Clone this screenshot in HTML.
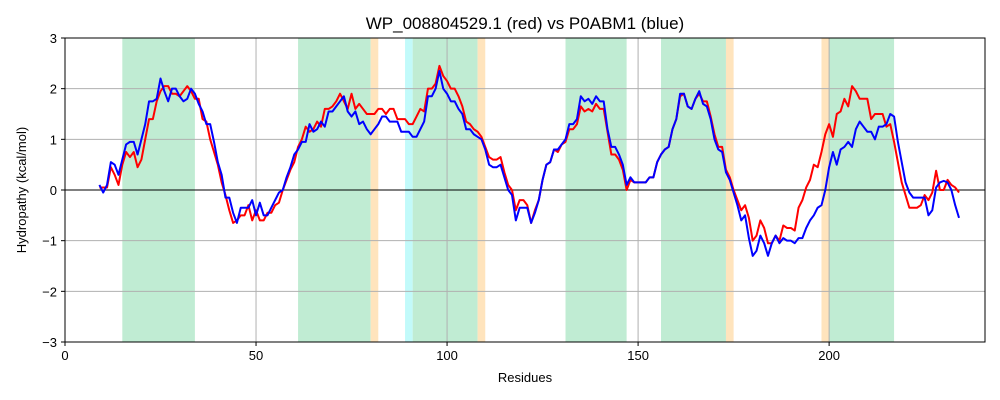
<!DOCTYPE html>
<html><head><meta charset="utf-8"><style>
html,body{margin:0;padding:0;background:#fff;}
svg{display:block;font-family:"Liberation Sans","DejaVu Sans",sans-serif;}
</style></head><body>
<svg id="chart" width="1000" height="400" viewBox="0 0 1000 400"></svg>
<script>
const startResidue = 9;
const redValues = [0.05,0.05,0.05,0.45,0.3,0.1,0.5,0.75,0.65,0.75,0.45,0.6,1.0,1.4,1.4,1.75,1.95,2.05,2.05,1.9,1.9,1.85,1.95,2.05,1.95,1.8,1.8,1.4,1.35,1.0,0.75,0.5,0.15,-0.1,-0.4,-0.65,-0.6,-0.5,-0.5,-0.3,-0.6,-0.4,-0.6,-0.6,-0.45,-0.45,-0.3,-0.25,0.0,0.2,0.4,0.55,0.85,1.0,1.25,1.15,1.2,1.35,1.25,1.6,1.6,1.65,1.75,1.9,1.75,1.6,1.9,1.6,1.7,1.6,1.5,1.5,1.5,1.6,1.6,1.5,1.6,1.6,1.4,1.4,1.4,1.3,1.3,1.45,1.6,1.55,2.0,2.0,2.1,2.45,2.25,2.15,2.0,2.0,1.85,1.65,1.35,1.3,1.2,1.15,1.05,0.85,0.65,0.6,0.6,0.65,0.35,0.1,0.0,-0.4,-0.2,-0.2,-0.3,-0.65,-0.4,-0.2,0.2,0.5,0.55,0.8,0.75,0.9,0.95,1.2,1.2,1.3,1.65,1.55,1.6,1.55,1.7,1.6,1.6,1.15,0.7,0.7,0.6,0.4,0.0,0.2,0.15,0.15,0.15,0.15,0.25,0.25,0.55,0.7,0.8,0.85,1.2,1.4,1.85,1.9,1.65,1.6,1.8,1.9,1.75,1.75,1.45,1.1,0.85,0.85,0.4,0.25,0.0,-0.2,-0.4,-0.3,-0.55,-1.0,-0.9,-0.6,-0.75,-1.05,-1.05,-0.9,-1.0,-0.7,-0.75,-0.75,-0.8,-0.35,-0.2,0.05,0.2,0.5,0.45,0.75,1.1,1.3,1.05,1.5,1.55,1.8,1.65,2.05,1.95,1.8,1.8,1.8,1.4,1.5,1.5,1.5,1.25,1.3,0.95,0.55,0.15,-0.1,-0.35,-0.35,-0.35,-0.3,-0.1,-0.2,-0.05,0.38,0.0,0.0,0.2,0.1,0.05,-0.05];
const blueValues = [0.1,-0.05,0.1,0.55,0.5,0.3,0.6,0.9,0.95,0.95,0.7,1.0,1.3,1.75,1.75,1.8,2.2,1.95,1.75,2.0,2.0,1.85,1.75,1.8,2.0,1.9,1.7,1.55,1.3,1.3,0.95,0.55,0.3,-0.15,-0.15,-0.45,-0.65,-0.35,-0.35,-0.35,-0.2,-0.5,-0.25,-0.5,-0.5,-0.35,-0.2,-0.05,0.0,0.25,0.45,0.7,0.8,0.95,0.95,1.3,1.15,1.2,1.35,1.25,1.55,1.55,1.65,1.75,1.85,1.55,1.45,1.55,1.3,1.35,1.2,1.1,1.2,1.3,1.45,1.45,1.35,1.35,1.35,1.15,1.15,1.15,1.05,1.05,1.2,1.35,1.85,1.85,2.0,2.35,2.0,1.9,1.75,1.75,1.6,1.5,1.2,1.2,1.1,1.05,1.0,0.8,0.5,0.45,0.45,0.5,0.25,0.0,-0.1,-0.6,-0.35,-0.35,-0.35,-0.65,-0.45,-0.2,0.2,0.5,0.55,0.8,0.8,0.9,1.0,1.3,1.3,1.4,1.85,1.75,1.8,1.7,1.85,1.75,1.75,1.2,0.85,0.85,0.7,0.5,0.1,0.25,0.15,0.15,0.15,0.15,0.25,0.25,0.55,0.7,0.8,0.85,1.2,1.4,1.9,1.9,1.65,1.6,1.8,1.95,1.7,1.65,1.4,1.0,0.8,0.75,0.35,0.2,-0.05,-0.3,-0.6,-0.5,-0.95,-1.3,-1.2,-0.9,-1.05,-1.3,-1.05,-0.9,-1.05,-0.95,-1.0,-1.0,-1.05,-0.95,-0.95,-0.75,-0.6,-0.5,-0.35,-0.3,0.0,0.45,0.75,0.5,0.8,0.85,0.95,0.85,1.2,1.35,1.25,1.15,1.15,1.0,1.25,1.25,1.3,1.5,1.45,0.95,0.55,0.15,-0.05,-0.15,-0.15,-0.15,-0.15,-0.5,-0.4,0.05,0.15,0.18,0.15,0.0,-0.3,-0.55];
const bandStarts = [15,61,80,89,91,108,131,156,173,198,200];
const bandEnds   = [34,80,82,91,108,110,147,173,175,200,217];
const bandKinds  = ['tm','tm','end','start','tm','end','tm','tm','end','end','tm'];
const xTicks = [0,50,100,150,200];
const yTicks = [-3,-2,-1,0,1,2,3];

const L=65,R=985,T=38,B=342, xMin=0,xMax=240.8,yMin=-3,yMax=3;
const xs=v=>L+(v-xMin)/(xMax-xMin)*(R-L);
const ys=v=>B-(v-yMin)/(yMax-yMin)*(B-T);
const NS='http://www.w3.org/2000/svg';
const svg=document.getElementById('chart');
function mk(tag,attrs,parent){const e=document.createElementNS(NS,tag);for(const k in attrs)e.setAttribute(k,attrs[k]);(parent||svg).appendChild(e);return e;}
const colors={tm:'#c0ecd3',end:'#ffe4bd',start:'#c2fafa'};
bandStarts.forEach((s,i)=>{
  const r=mk('rect',{x:xs(s),y:T,width:xs(bandEnds[i])-xs(s),height:B-T,fill:colors[bandKinds[i]]});
  
  
});
xTicks.forEach(t=>{
  const g=mk('line',{x1:xs(t),x2:xs(t),y1:T,y2:B,stroke:'#b0b0b0','stroke-width':1});
  
  
  mk('line',{x1:xs(t),x2:xs(t),y1:B,y2:B+4,stroke:'#000'});
  const tx=mk('text',{x:xs(t),y:B+18,'text-anchor':'middle','font-size':13,fill:'#000'});
  tx.textContent=t;
  
  
});
yTicks.forEach(t=>{
  const g=mk('line',{x1:L,x2:R,y1:ys(t),y2:ys(t),stroke:'#b0b0b0','stroke-width':1});
  
  
  mk('line',{x1:L-4,x2:L,y1:ys(t),y2:ys(t),stroke:'#000'});
  const tx=mk('text',{x:L-8,y:ys(t)+5,'text-anchor':'end','font-size':13,fill:'#000'});
  tx.textContent=t<0?'\u2212'+Math.abs(t):t;
  
  
});
const z=mk('line',{x1:L,x2:R,y1:ys(0),y2:ys(0),stroke:'#000','stroke-width':1});


function series(vals,color,name){
  const pts=vals.map((v,i)=>xs(startResidue+i).toFixed(2)+','+ys(v).toFixed(2)).join(' ');
  const p=mk('polyline',{points:pts,fill:'none',stroke:color,'stroke-width':2,'stroke-linejoin':'round'});
  
  
}
series(redValues,'#ff0000','red-series-line');
series(blueValues,'#0000ff','blue-series-line');
const fr=mk('rect',{x:L,y:T,width:R-L,height:B-T,fill:'none',stroke:'#000','stroke-width':1});


const title=mk('text',{x:(L+R)/2,y:29,'text-anchor':'middle','font-size':17,fill:'#000'});
title.textContent='WP_008804529.1 (red) vs P0ABM1 (blue)';


const xl=mk('text',{x:(L+R)/2,y:382,'text-anchor':'middle','font-size':13,fill:'#000'});
xl.textContent='Residues';


const yl=mk('text',{x:26,y:(T+B)/2,'text-anchor':'middle','font-size':13,fill:'#000',transform:'rotate(-90 26 '+((T+B)/2)+')'});
yl.textContent='Hydropathy (kcal/mol)';


</script>
</body></html>
